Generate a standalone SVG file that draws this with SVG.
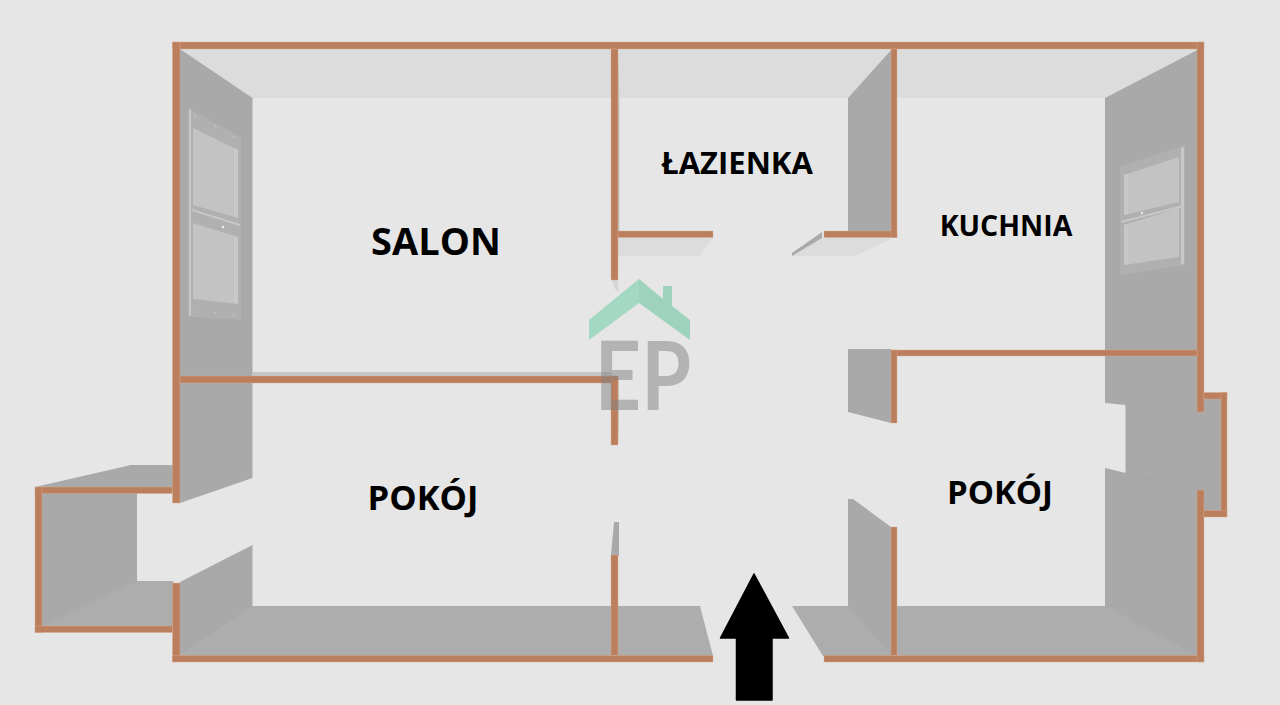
<svg xmlns="http://www.w3.org/2000/svg" width="1280" height="705" viewBox="0 0 1280 705">
<style>
.w{fill:#bc7f5d;stroke:#d9ab90;stroke-width:.4}
.g{fill:#a9a9a9}
.f{fill:#adadad}
.b{fill:#dcdcdc}
.s{fill:#c6c6c6}
.fr{fill:#b0b0b0}
.pn{fill:#c3c3c3}
.st{fill:#c8c8c8}
.dot{fill:#d0d0d0}
.t{font-family:"Open Sans","Liberation Sans",sans-serif;font-weight:700;fill:#000;text-anchor:middle}
</style>
<rect width="1280" height="705" fill="#e6e6e6"/>
<g id="floors">
<polygon class="b" points="180,49 612,49 612,98 252,98"/>
<polygon class="b" points="617,49 891,49 848,98 617,98"/>
<polygon class="b" points="896,49 1197,49 1105,98 896,98"/>
<polygon class="b" points="618,237 713,237 700,256 618,256"/>
<polygon class="b" points="824,237 895,237 855,256 792,256"/>
<polygon class="f" points="180,656 180,640 240,606 612,606 612,656"/>
<polygon class="f" points="617,606 700,606 713,656 617,656"/>
<polygon class="f" points="792,606 860,606 892,656 823,656"/>
<polygon class="f" points="896,606 1115,606 1197,656 896,656"/>
<polygon class="f" points="42,627 42,615 125,581 173,581 173,627"/>
</g>
<g id="side-walls">
<polygon class="g" points="180,49 252.500,98 252.500,377 180,377"/>
<polygon class="s" points="252.500,372 612,372 612,377 252.500,377"/>
<polygon class="g" points="180,382 252.500,382 252.500,478 180,503"/>
<polygon class="g" points="180,655 180,582 252.500,545 252.500,606"/>
<polygon class="g" points="35,487 131,465 173,465 173,488"/>
<polygon class="g" points="42,492 137,492 137,581 42,626"/>
<polygon class="g" points="891,50 848,98 848,232 891,232"/>
<polygon class="g" points="792,253 822,232 822,238 792,256"/>
<polygon class="g" points="848,349 891,349 891,423 848,412"/>
<polygon class="g" points="848,499 853,499 891,527 891,655 848,606"/>
<polygon class="g" points="1197,50 1105,98 1105,351 1197,351"/>
<polygon class="g" points="1105,355 1197,355 1197,412 1204,412 1204,398 1222,398 1222,511 1204,511 1204,495 1197,495 1125.500,476 1125.500,405 1105,403"/>
<polygon class="g" points="1105,468 1197,490 1197,656 1105,606"/>
<line x1="1125.500" y1="473" x2="1197" y2="490" stroke="#a3a3a3" stroke-width=".8"/>
<polygon class="g" points="611,555 614,522 619,522 619,556"/>
<polygon class="s" points="618,49 619.500,93 619.500,231 618,231"/>
<polygon class="s" points="618,376 619,376 619,425 618,445"/>
<polygon points="612,280 618,280 619,292 615,289" fill="#d6d6d6"/>
</g>
<g id="window-left">
<polygon class="fr" points="188,108 241,137 241,320 188,317"/>
<polygon class="pn" points="193,128 238,150 238,218 193,205"/>
<polygon class="pn" points="193,223 238,237 238,304 193,299"/>
<polygon class="st" points="234,148 238,150 238,218 234,216"/>
<polygon class="st" points="234,236 238,237 238,304 234,303"/>
<polygon class="st" points="189,109 191,110 191,316 189,316"/>
<polygon class="st" points="192,209 240,224 240,226 192,211"/>
<circle cx="223" cy="227" r="1.300" fill="#ececec"/>
<circle class="dot" cx="195" cy="116" r=".8"/>
<circle class="dot" cx="215" cy="126" r=".8"/>
<circle class="dot" cx="234" cy="137" r=".8"/>
<circle class="dot" cx="195" cy="312" r=".8"/>
<circle class="dot" cx="215" cy="313" r=".8"/>
<circle class="dot" cx="234" cy="315" r=".8"/>
</g>
<g id="window-right">
<polygon class="fr" points="1120,167 1185,145 1185,265 1120,275"/>
<polygon class="pn" points="1124,175 1179,157 1179,202 1124,215"/>
<polygon class="pn" points="1124,225 1179,208 1179,257 1124,265"/>
<polygon class="st" points="1124,175 1128,174 1128,214 1124,215"/>
<polygon class="st" points="1124,225 1128,224 1128,264 1124,265"/>
<polygon class="st" points="1181,148 1184,147 1184,264 1181,265"/>
<polygon class="st" points="1121,221 1183,205 1183,207 1121,223"/>
<circle cx="1142" cy="213" r="1.200" fill="#ececec"/>
</g>
<g id="walls">
<rect class="w" x="172.500" y="42" width="1031.500" height="7"/>
<rect class="w" x="172.500" y="42" width="7.500" height="461"/>
<rect class="w" x="172.500" y="583" width="7.500" height="79"/>
<rect class="w" x="172.500" y="655.500" width="540.500" height="6.500"/>
<rect class="w" x="824" y="655.500" width="380" height="6.500"/>
<rect class="w" x="1197" y="42" width="7" height="370"/>
<rect class="w" x="1197" y="490" width="7" height="172"/>
<rect class="w" x="1204" y="392.500" width="23" height="6.500"/>
<rect class="w" x="1221" y="392.500" width="6" height="124.500"/>
<rect class="w" x="1204" y="510.500" width="23" height="6.500"/>
<rect class="w" x="35" y="487" width="137.500" height="6.500"/>
<rect class="w" x="35" y="487" width="7" height="145.500"/>
<rect class="w" x="35" y="626" width="137.500" height="6.500"/>
<rect class="w" x="180" y="376" width="438" height="7"/>
<rect class="w" x="611" y="49" width="7" height="231"/>
<rect class="w" x="611" y="376" width="7" height="69"/>
<rect class="w" x="611" y="555" width="7" height="100.500"/>
<rect class="w" x="618" y="231" width="95" height="6.500"/>
<rect class="w" x="824" y="231" width="73" height="6.500"/>
<rect class="w" x="891" y="49" width="6" height="188.500"/>
<rect class="w" x="891" y="350" width="306" height="6"/>
<rect class="w" x="891" y="350" width="6" height="73"/>
<rect class="w" x="891" y="527" width="6" height="128.500"/>
</g>
<g id="labels">
<text class="t" x="436" y="255" font-size="38">SALON</text>
<text class="t" x="737" y="174" font-size="31">ŁAZIENKA</text>
<text class="t" x="1006" y="236" font-size="28.500">KUCHNIA</text>
<text class="t" x="423" y="510" font-size="34.500">POKÓJ</text>
<text class="t" x="1000" y="504" font-size="33">POKÓJ</text>
</g>
<g id="logo">
<polygon points="589,320 639,279 639,303 589,340" fill="#a3d8c2"/>
<polygon points="639,279 663,299 663,286 672,286 672,306 690,320 690,340 639,303" fill="#9dd3bc"/>
<text transform="translate(643 410) scale(.84 1)" x="0" y="0" font-family="Lato,'Liberation Sans',sans-serif" font-weight="700" font-size="96" text-anchor="middle" fill="#808080" fill-opacity=".5">EP</text>
</g>
<polygon id="entry-arrow" points="754,574 720.500,638 736.500,638 736.500,700 772,700 772,638 788.500,638" fill="#000" stroke="#000" stroke-width="1.500" stroke-linejoin="round"/>
</svg>
